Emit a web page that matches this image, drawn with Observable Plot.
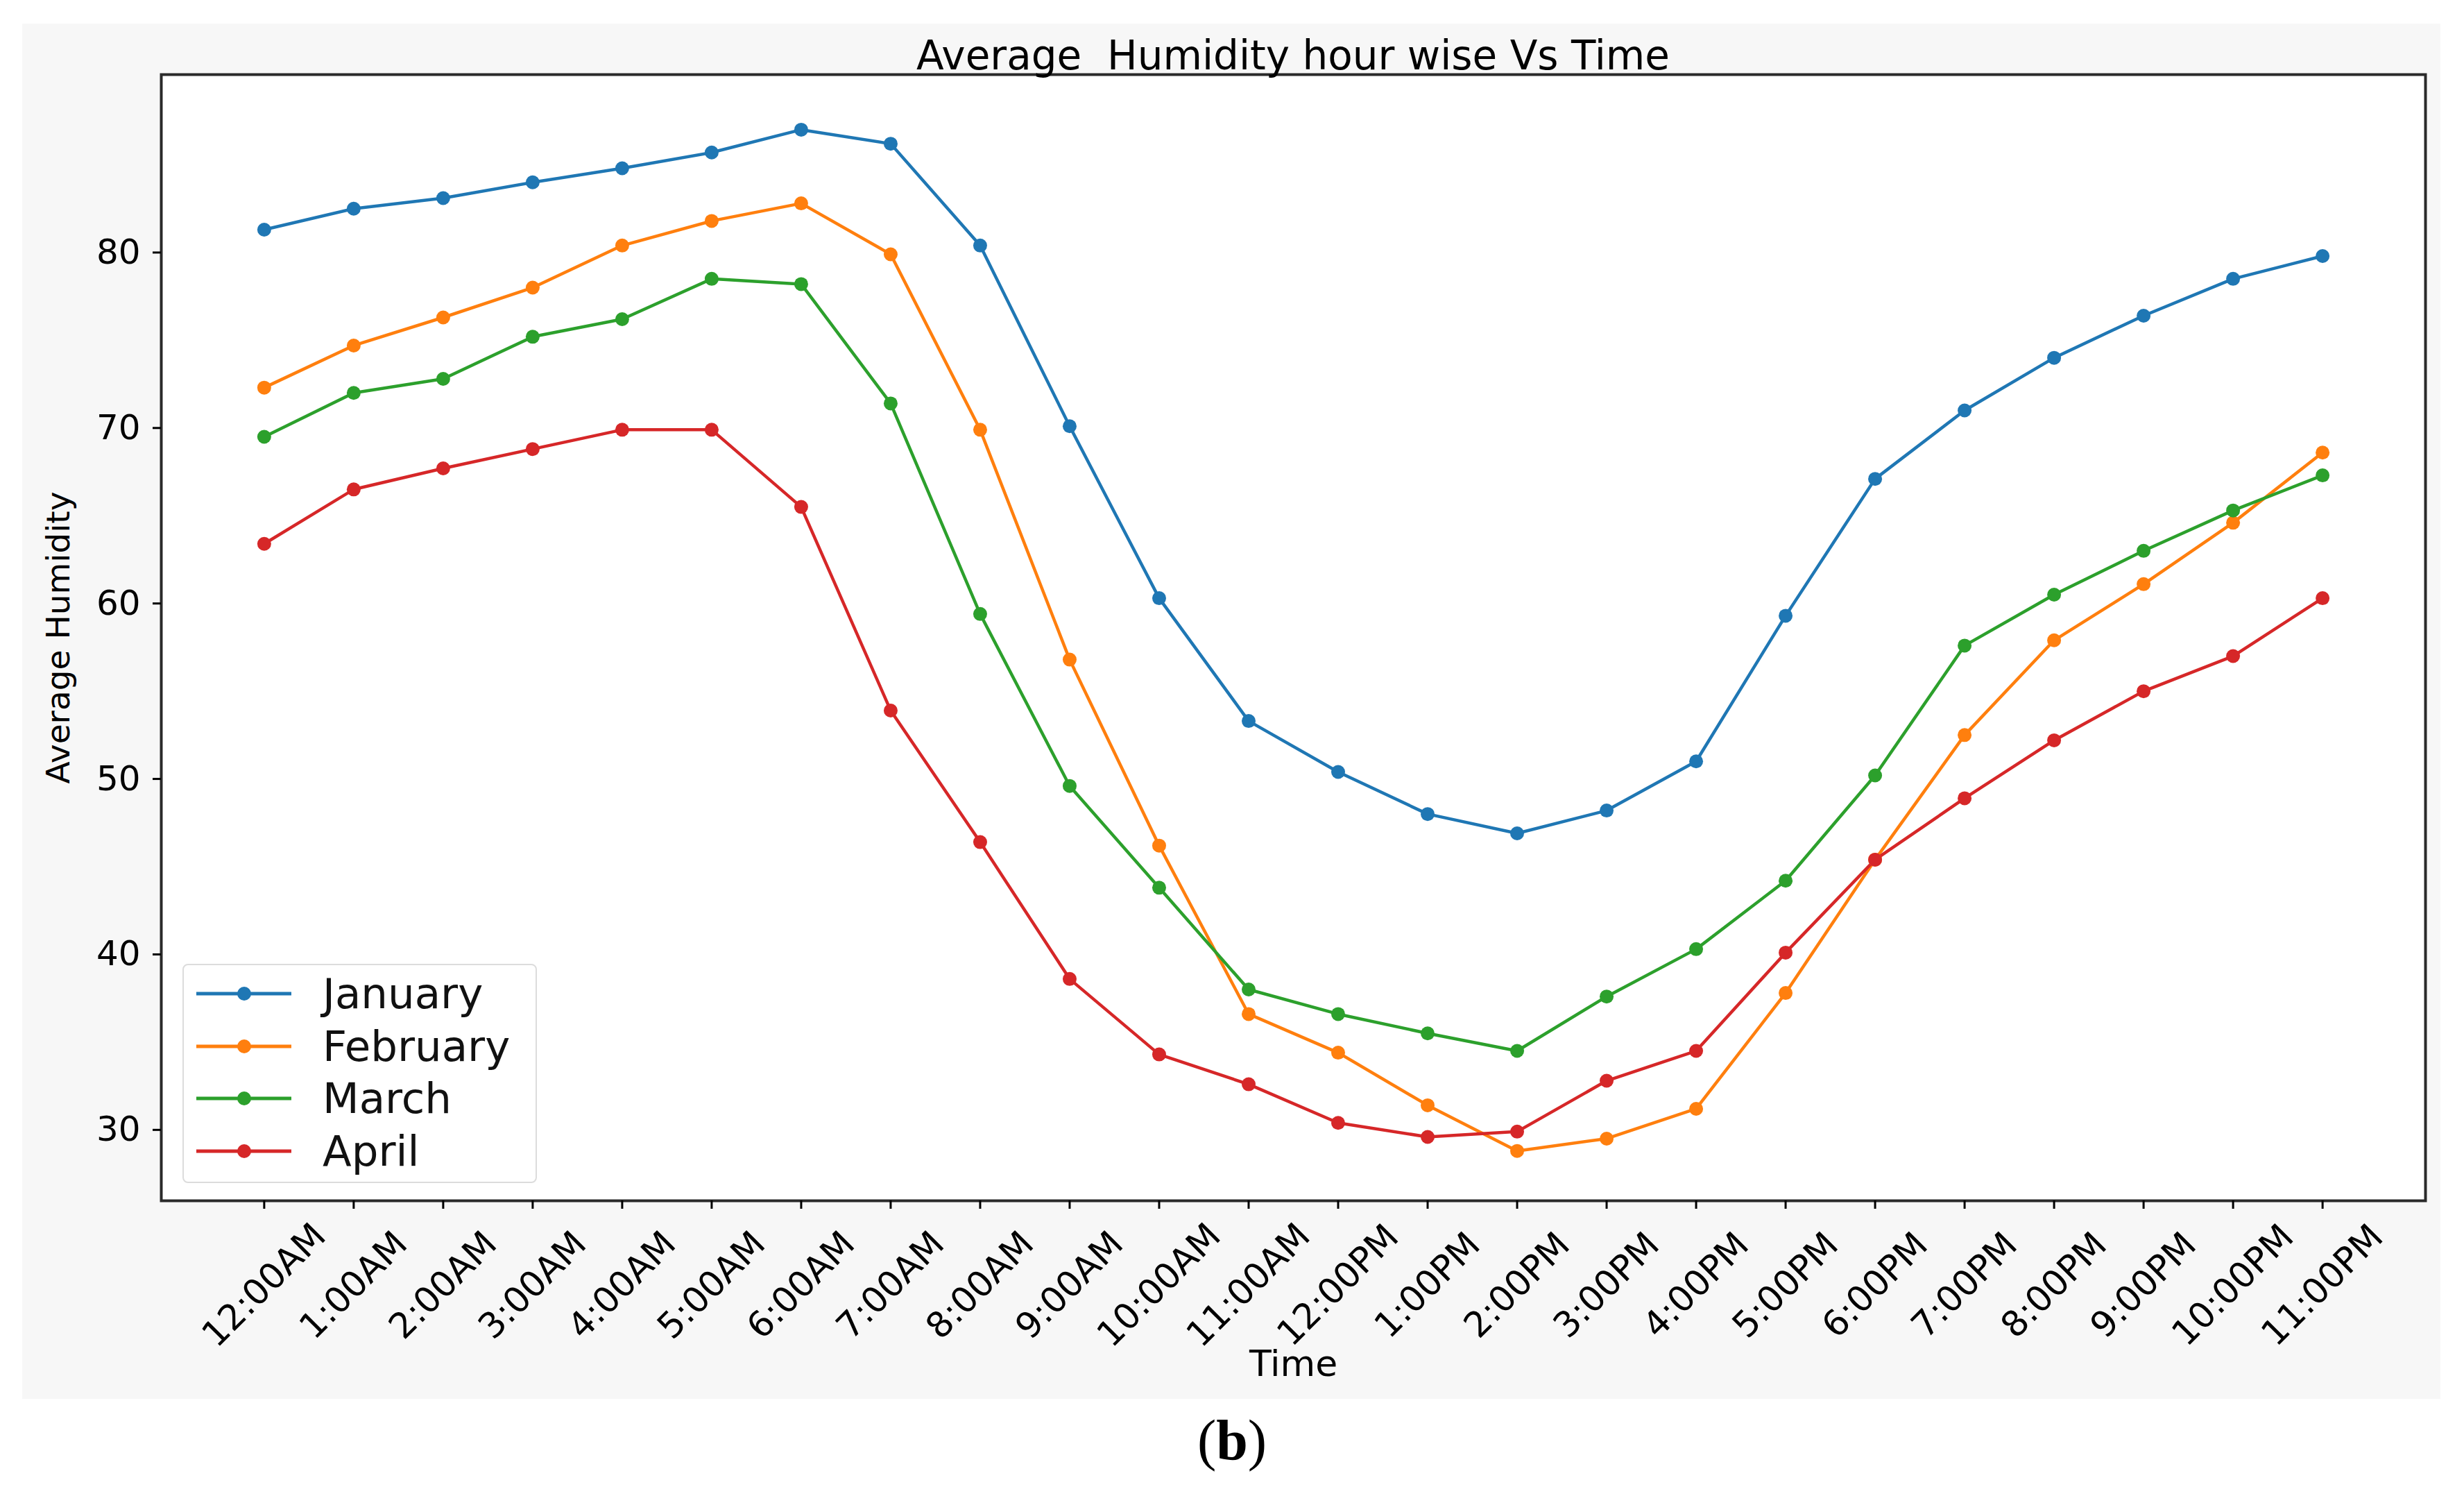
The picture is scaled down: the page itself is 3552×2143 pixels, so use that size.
<!DOCTYPE html>
<html>
<head>
<meta charset="utf-8">
<script src="https://cdn.jsdelivr.net/npm/d3@7"></script>
<script src="https://cdn.jsdelivr.net/npm/@observablehq/plot@0.6"></script>
<style>
  html, body { margin: 0; padding: 0; background: #ffffff; }
  body { width: 3552px; height: 2143px; position: relative; overflow: hidden; font-family: "DejaVu Sans", sans-serif; }
  #panel { position: absolute; left: 32px; top: 34px; width: 3486px; height: 1982px; background: #f7f7f7; }
  #chart { position: absolute; left: 0; top: 0; }
  #title { position: absolute; left: 200px; top: 16px; width: 3264px; text-align: center; font-size: 58px; line-height: 60px; color: #000; white-space: pre; }
  #legend { position: absolute; left: 231px; top: 1355px; width: 507px; height: 312px; background: #ffffff; border: 2px solid #dcdcdc; border-radius: 8px; }
  .row { position: absolute; left: 0; height: 70px; width: 100%; }
  .row svg { position: absolute; left: 16px; top: 0; }
  .row span { position: absolute; left: 200px; top: 0; line-height: 70px; font-size: 61px; color: #111; }
  #caption { position: absolute; left: 0; width: 3552px; top: 2030px; text-align: center; font-family: "Liberation Serif", serif; font-size: 82px; line-height: 92px; color: #000; }
</style>
</head>
<body>
<div id="panel">
  <div id="chart"></div>
  <div id="title"></div>
  <div id="legend"></div>
</div>
<div id="caption">(<b>b</b>)</div>
<script>
const hours = ["12:00AM","1:00AM","2:00AM","3:00AM","4:00AM","5:00AM","6:00AM","7:00AM","8:00AM","9:00AM","10:00AM","11:00AM",
               "12:00PM","1:00PM","2:00PM","3:00PM","4:00PM","5:00PM","6:00PM","7:00PM","8:00PM","9:00PM","10:00PM","11:00PM"];
const months = ["January", "February", "March", "April"];
const colors = ["#1f77b4", "#ff7f0e", "#2ca02c", "#d62728"];
const january  = [81.3, 82.5, 83.1, 84.0, 84.8, 85.7, 87.0, 86.2, 80.4, 70.1, 60.3, 53.3, 50.4, 48.0, 46.9, 48.2, 51.0, 59.3, 67.1, 71.0, 74.0, 76.4, 78.5, 79.8];
const february = [72.3, 74.7, 76.3, 78.0, 80.4, 81.8, 82.8, 79.9, 69.9, 56.8, 46.2, 36.6, 34.4, 31.4, 28.8, 29.5, 31.2, 37.8, 45.4, 52.5, 57.9, 61.1, 64.6, 68.6];
const march    = [69.5, 72.0, 72.8, 75.2, 76.2, 78.5, 78.2, 71.4, 59.4, 49.6, 43.8, 38.0, 36.6, 35.5, 34.5, 37.6, 40.3, 44.2, 50.2, 57.6, 60.5, 63.0, 65.3, 67.3];
const april    = [63.4, 66.5, 67.7, 68.8, 69.9, 69.9, 65.5, 53.9, 46.4, 38.6, 34.3, 32.6, 30.4, 29.6, 29.9, 32.8, 34.5, 40.1, 45.4, 48.9, 52.2, 55.0, 57.0, 60.3];
const yTicks = [30, 40, 50, 60, 70, 80];
const titleText = "Average  Humidity hour wise Vs Time";
const xLabel = "Time";
const yLabel = "Average Humidity";

const series = [january, february, march, april];
const data = months.flatMap((m, k) => series[k].map((v, i) => ({month: m, i, v})));

const chart = Plot.plot({
  width: 3486,
  height: 1982,
  marginLeft: 200,
  marginTop: 73,
  marginRight: 22,
  marginBottom: 286,
  style: {background: "transparent", fontFamily: "DejaVu Sans", color: "#000", overflow: "visible"},
  x: {type: "linear", domain: [-1.15, 24.15]},
  y: {domain: [25.96, 90.14]},
  color: {domain: months, range: colors},
  marks: [
    Plot.frame({fill: "#ffffff", stroke: null}),
    Plot.line(data, {x: "i", y: "v", z: "month", stroke: "month", strokeWidth: 4.5}),
    Plot.dot(data, {x: "i", y: "v", fill: "month", r: 10, stroke: null}),
    Plot.frame({stroke: "#2a2a2a", strokeWidth: 4}),
    Plot.axisY({ticks: yTicks, tickSize: 12, tickPadding: 18, fontSize: 50, strokeWidth: 3, label: null}),
    Plot.axisX({ticks: d3.range(hours.length), tickFormat: i => hours[i], tickRotate: -45,
      textAnchor: "middle", lineAnchor: "middle", tickSize: 12, tickPadding: 110,
      fontSize: 51, strokeWidth: 3, label: null}),
    Plot.text([yLabel], {text: d => d, frameAnchor: "left", rotate: -90, dx: -148, fontSize: 47,
      textAnchor: "middle", lineAnchor: "middle"}),
    Plot.text([xLabel], {text: d => d, frameAnchor: "bottom", dy: 236, fontSize: 52,
      textAnchor: "middle", lineAnchor: "middle"})
  ]
});
document.getElementById("chart").appendChild(chart);
document.getElementById("title").textContent = titleText;

const legend = document.getElementById("legend");
months.forEach((m, k) => {
  const row = document.createElement("div");
  row.className = "row";
  row.style.top = (6 + 75.5 * k) + "px";
  row.innerHTML = `<svg width="150" height="70"><line x1="2" x2="139" y1="35" y2="35" stroke="${colors[k]}" stroke-width="5"/><circle cx="71" cy="35" r="10" fill="${colors[k]}"/></svg><span>${m}</span>`;
  legend.appendChild(row);
});
</script>
</body>
</html>
